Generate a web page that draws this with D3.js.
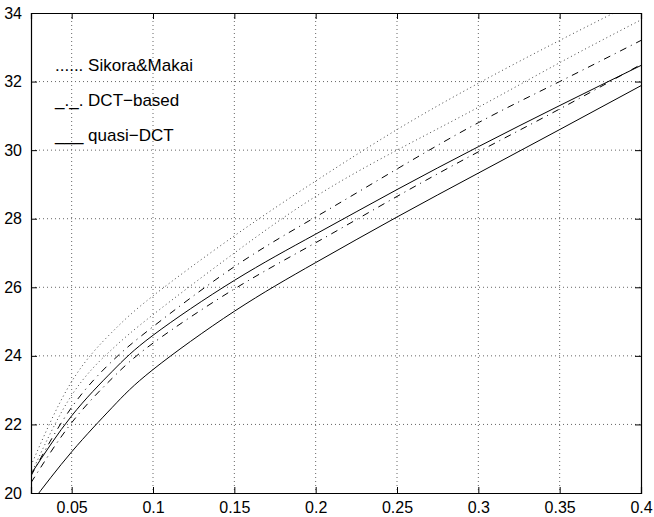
<!DOCTYPE html>
<meta charset="utf-8">
<script src="https://d3js.org/d3.v7.min.js"></script>
<style>
  body { margin: 0; background: #fff; }
  text { font-family: "Liberation Sans", Arial, sans-serif; }
</style>
<div id="my_dataviz"></div>
<script>

    // values
    var rates = [0.025, 0.05, 0.075, 0.1, 0.15, 0.2, 0.25, 0.3, 0.35, 0.4];
    var sikoraHigh = [20.8, 23.25, 24.7, 25.75, 27.5, 29.1, 30.6, 31.95, 33.2, 34.4];
    var sikoraLow  = [20.55, 22.85, 24.2, 25.2, 27.0, 28.65, 30.0, 31.25, 32.55, 33.8];
    var dctHigh    = [20.5, 22.5, 23.85, 24.85, 26.6, 28.05, 29.45, 30.8, 32.0, 33.2];
    var dctLow     = [20.3, 22.05, 23.35, 24.37, 25.95, 27.3, 28.65, 29.95, 31.2, 32.5];
    var quasiHigh  = [20.55, 22.25, 23.55, 24.6, 26.2, 27.55, 28.85, 30.1, 31.3, 32.47];
    var quasiLow   = [19.7, 21.2, 22.5, 23.6, 25.3, 26.72, 28.05, 29.33, 30.6, 31.88];

    var xTicks = [0.05, 0.1, 0.15, 0.2, 0.25, 0.3, 0.35, 0.4];
    var yTicks = [20, 22, 24, 26, 28, 30, 32, 34];
    var legendLabels = ["...... Sikora&Makai", "_._. DCT\u2212based", "___ quasi\u2212DCT"];

    var margin = {top: 13, right: 13, bottom: 24, left: 31},
        width = 654 - margin.left - margin.right,
        height = 517 - margin.top - margin.bottom;

    var svg = d3.select("#my_dataviz")
      .append("svg")
        .attr("width", 654)
        .attr("height", 517)
      .append("g")
        .attr("transform", "translate(" + margin.left + "," + margin.top + ")");

    var x = d3.scaleLinear()
      .domain([0.025, 0.4])
      .range([0, width]);

    var y = d3.scaleLinear()
      .domain([20, 34])
      .range([height, 0]);

    svg.append("clipPath")
        .attr("id", "clip")
      .append("rect")
        .attr("width", width)
        .attr("height", height);

    // dotted grid
    svg.append("g")
      .selectAll("line")
      .data(xTicks.filter(function(d){ return d < 0.4; }))
      .enter()
      .append("line")
        .attr("x1", function(d){ return x(d); })
        .attr("x2", function(d){ return x(d); })
        .attr("y1", 0)
        .attr("y2", height)
        .attr("stroke", "#666")
        .attr("stroke-width", 1)
        .style("stroke-dasharray", "1,3");

    svg.append("g")
      .selectAll("line")
      .data(yTicks.filter(function(d){ return d > 20 && d < 34; }))
      .enter()
      .append("line")
        .attr("x1", 0)
        .attr("x2", width)
        .attr("y1", function(d){ return y(d); })
        .attr("y2", function(d){ return y(d); })
        .attr("stroke", "#666")
        .attr("stroke-width", 1)
        .style("stroke-dasharray", "1,3");

    // curves
    var series = [
      {v: sikoraHigh, dash: "1,3", c: "#444"},
      {v: sikoraLow,  dash: "1,3", c: "#444"},
      {v: dctHigh,    dash: "7,5,1,5", c: "#000"},
      {v: dctLow,     dash: "7,5,1,5", c: "#000"},
      {v: quasiHigh,  dash: null, c: "#000"},
      {v: quasiLow,   dash: null, c: "#000"}
    ];

    var line = d3.line()
      .x(function(d, i){ return x(rates[i]); })
      .y(function(d){ return y(d); })
      .curve(d3.curveNatural);

    svg.append("g")
        .attr("clip-path", "url(#clip)")
      .selectAll("path")
      .data(series)
      .enter()
      .append("path")
        .attr("d", function(d){ return line(d.v); })
        .attr("fill", "none")
        .attr("stroke", function(d){ return d.c; })
        .attr("stroke-width", 1)
        .style("stroke-dasharray", function(d){ return d.dash; });

    // axes, ticks pointing inwards on every side
    svg.append("g")
        .attr("transform", "translate(0," + height + ")")
        .call(d3.axisBottom(x).tickValues(xTicks).tickSize(-6).tickPadding(9)
          .tickFormat(function(d){ return String(d); }))
        .call(function(g){ g.selectAll("text").style("font-size", "16px").attr("fill", "#000"); });

    svg.append("g")
        .call(d3.axisTop(x).tickValues(xTicks).tickSize(-6).tickFormat(""));

    svg.append("g")
        .call(d3.axisLeft(y).tickValues(yTicks).tickSize(-6).tickPadding(9))
        .call(function(g){ g.selectAll("text").style("font-size", "16px").attr("fill", "#000"); });

    svg.append("g")
        .attr("transform", "translate(" + width + ",0)")
        .call(d3.axisRight(y).tickValues(yTicks).tickSize(-6).tickFormat(""));

    svg.selectAll(".domain").attr("stroke", "#000").attr("stroke-width", 1.2);
    svg.selectAll(".tick line").attr("stroke", "#000");

    // legend written as text, as in the original
    svg.append("g")
      .selectAll("text")
      .data(legendLabels)
      .enter()
      .append("text")
        .attr("x", 24)
        .attr("y", function(d, i){ return 58 + i * 35; })
        .style("font-size", "17px")
        .attr("fill", "#000")
        .text(function(d){ return d; });

</script>
